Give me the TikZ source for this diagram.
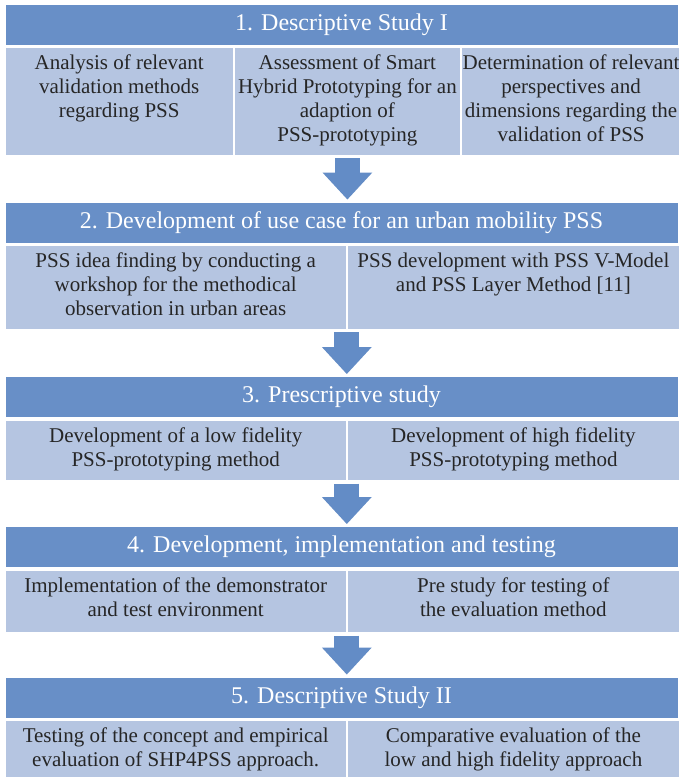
\documentclass[tikz,border=0pt]{standalone}
\usepackage{fontspec}
\setmainfont{Liberation Serif}
\usetikzlibrary{positioning,arrows.meta}

\definecolor{headblue}{RGB}{104,143,199}
\definecolor{cellblue}{RGB}{181,197,225}
\definecolor{arrowblue}{RGB}{99,140,198}
\definecolor{textgray}{RGB}{38,38,38}

% fixed size cell, text starting at the top
\newcommand{\cellbox}[3]{\parbox[t][#2][t]{#1}{\centering\rule{0pt}{22pt}#3}}

\begin{document}
\begin{tikzpicture}[x=1pt,y=-1pt]
			\tikzstyle{head} = [fill=headblue, draw=white, line width=0.8pt, text=white, minimum width=673pt, minimum height=41pt, inner sep=0pt, font=\fontsize{24}{28}\selectfont]
			\tikzstyle{cell} = [fill=cellblue, draw=white, line width=1.2pt, text=textgray, inner sep=0pt, font=\fontsize{21}{24}\selectfont]
			\tikzstyle{down} = [draw=arrowblue, line width=25pt, -{Triangle[width=48pt, length=27pt]}, shorten <=2pt, shorten >=2pt]
			\useasboundingbox (0,0) rectangle (678,777);
			% 1
			\node[head](h1) at (341.5,24.5){1. Descriptive Study I};
			\node[cell, below right=1.5pt and 0pt of h1.south west](s1a){\cellbox{228pt}{108pt}{Analysis of relevant\\validation methods\\regarding PSS}};
			\node[cell, below right=0pt and 0pt of s1a.north east](s1b){\cellbox{226pt}{108pt}{Assessment of Smart\\Hybrid Prototyping for an\\adaption of\\PSS-prototyping}};
			\node[cell, below right=0pt and 0pt of s1b.north east](s1c){\cellbox{219pt}{108pt}{Determination of relevant\\perspectives and\\dimensions regarding the\\validation of PSS}};
			% 2
			\node[head](h2) at (341.5,222.5){2. Development of use case for an urban mobility PSS};
			\node[cell, below right=1.5pt and 0pt of h2.south west](s2a){\cellbox{341pt}{84pt}{PSS idea finding by conducting a\\workshop for the methodical\\observation in urban areas}};
			\node[cell, below right=0pt and 0pt of s2a.north east](s2b){\cellbox{332pt}{84pt}{PSS development with PSS V-Model\\and PSS Layer Method [11]}};
			% 3
			\node[head](h3) at (341.5,397){3. Prescriptive study};
			\node[cell, below right=1.5pt and 0pt of h3.south west](s3a){\cellbox{341pt}{61pt}{Development of a low fidelity\\PSS-prototyping method}};
			\node[cell, below right=0pt and 0pt of s3a.north east](s3b){\cellbox{332pt}{61pt}{Development of high fidelity\\PSS-prototyping method}};
			% 4
			\node[head](h4) at (341.5,547){4. Development, implementation and testing};
			\node[cell, below right=1.5pt and 0pt of h4.south west](s4a){\cellbox{341pt}{63pt}{Implementation of the demonstrator\\and test environment}};
			\node[cell, below right=0pt and 0pt of s4a.north east](s4b){\cellbox{332pt}{63pt}{Pre study for testing of\\the evaluation method}};
			% 5
			\node[head](h5) at (341.5,697.5){5. Descriptive Study II};
			\node[cell, below right=1.5pt and 0pt of h5.south west](s5a){\cellbox{341pt}{60pt}{Testing of the concept and empirical\\evaluation of SHP4PSS approach.}};
			\node[cell, below right=0pt and 0pt of s5a.north east](s5b){\cellbox{332pt}{60pt}{Comparative evaluation of the\\low and high fidelity approach}};
			% arrows
			\draw[down](s1b.south) -- (h2.north -| s1b.south);
			\draw[down](s2a.south east) -- (h3.north -| s2a.south east);
			\draw[down](s3a.south east) -- (h4.north -| s3a.south east);
			\draw[down](s4a.south east) -- (h5.north -| s4a.south east);
		\end{tikzpicture}
\end{document}
